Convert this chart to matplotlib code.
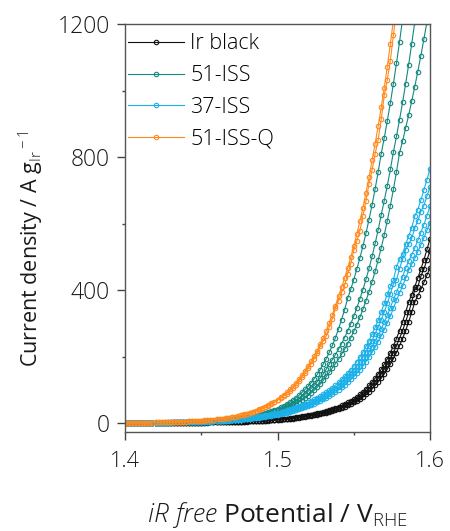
import numpy as np
import matplotlib.pyplot as plt

plt.rcParams['font.family'] = 'Open Sans'
plt.rcParams['font.weight'] = 'light'
plt.rcParams['mathtext.fontset'] = 'custom'
plt.rcParams['mathtext.rm'] = 'Open Sans:light'
plt.rcParams['mathtext.it'] = 'Open Sans:italic:light'

# iR-corrected potential sweep (V vs RHE), 2 mV steps
potential = np.round(np.arange(1400, 1601, 2) / 1000, 3)

# current densities (A g_Ir^-1), one list per polarisation curve
ir_black_1 = [0.2, 0.2, 0.3, 0.3, 0.3, 0.3, 0.4, 0.4, 0.4, 0.5,
              0.5, 0.5, 0.6, 0.6, 0.7, 0.7, 0.8, 0.9, 0.9, 1.0,
              1.1, 1.2, 1.3, 1.4, 1.5, 1.6, 1.7, 1.9, 2.0, 2.2,
              2.3, 2.5, 2.7, 3.0, 3.2, 3.4, 3.7, 4.0, 4.3, 4.7,
              5.0, 5.4, 5.9, 6.3, 6.8, 7.4, 7.9, 8.6, 9.2, 10.0,
              10.8, 11.6, 12.5, 13.5, 14.6, 15.8, 17.0, 18.3, 19.8, 21.4,
              23.0, 24.9, 26.8, 28.9, 31.2, 33.7, 36.4, 39.2, 42.3, 45.7,
              49.3, 53.1, 57.3, 61.9, 66.7, 72.0, 78.8, 86.2, 94.3, 103,
              113, 124, 135, 148, 162, 177, 194, 212, 232, 254,
              278, 304, 333, 364, 386, 410, 436, 463, 491, 522,
              554]
ir_black_2 = [0.2, 0.2, 0.2, 0.3, 0.3, 0.3, 0.3, 0.4, 0.4, 0.4,
              0.5, 0.5, 0.5, 0.6, 0.6, 0.7, 0.7, 0.8, 0.9, 0.9,
              1.0, 1.1, 1.2, 1.3, 1.4, 1.5, 1.6, 1.7, 1.9, 2.0,
              2.2, 2.3, 2.5, 2.7, 3.0, 3.2, 3.4, 3.7, 4.0, 4.3,
              4.7, 5.0, 5.4, 5.9, 6.3, 6.8, 7.4, 7.9, 8.6, 9.2,
              10.0, 10.8, 11.6, 12.5, 13.5, 14.6, 15.8, 17.0, 18.3, 19.8,
              21.4, 23.0, 24.9, 26.8, 28.9, 31.2, 33.7, 36.4, 39.2, 42.3,
              45.7, 49.3, 53.1, 57.3, 61.9, 66.7, 72.0, 78.8, 86.2, 94.3,
              103, 113, 124, 135, 148, 162, 177, 194, 212, 232,
              254, 278, 304, 333, 364, 402, 410, 441, 463, 491,
              518]
ir_black_3 = [0.2, 0.2, 0.2, 0.2, 0.3, 0.3, 0.3, 0.3, 0.4, 0.4,
              0.4, 0.5, 0.5, 0.5, 0.6, 0.6, 0.7, 0.7, 0.8, 0.9,
              0.9, 1.0, 1.1, 1.2, 1.3, 1.4, 1.5, 1.6, 1.7, 1.9,
              2.0, 2.2, 2.3, 2.5, 2.7, 3.0, 3.2, 3.4, 3.7, 4.0,
              4.3, 4.7, 5.0, 5.4, 5.9, 6.3, 6.8, 7.4, 7.9, 8.6,
              9.2, 10.0, 10.8, 11.6, 12.5, 13.5, 14.6, 15.8, 17.0, 18.3,
              19.8, 21.4, 23.0, 24.9, 26.8, 28.9, 31.2, 33.7, 36.4, 39.2,
              42.3, 45.7, 49.3, 53.1, 57.3, 61.9, 66.7, 72.0, 78.8, 86.2,
              94.3, 103, 113, 124, 135, 148, 162, 177, 194, 212,
              232, 254, 278, 304, 333, 364, 383, 402, 423, 445,
              467]

iss51_1 = [0.4, 0.5, 0.5, 0.6, 0.6, 0.7, 0.8, 0.8, 0.9, 1.0,
           1.1, 1.2, 1.3, 1.5, 1.6, 1.7, 1.9, 2.1, 2.3, 2.5,
           2.8, 3.0, 3.3, 3.6, 4.0, 4.4, 4.8, 5.2, 5.7, 6.3,
           6.9, 7.6, 8.3, 9.1, 10.0, 10.9, 12.0, 13.2, 14.4, 15.8,
           17.3, 19.0, 20.8, 22.9, 25.1, 27.5, 30.1, 33.0, 36.2, 39.7,
           43.6, 47.8, 52.4, 57.4, 62.9, 69.0,
           76, 83, 92, 101, 110, 121, 133, 146, 161, 177,
           194, 213, 234, 257, 283, 311, 341, 375,
           402, 431, 463, 496, 532, 571, 612, 656, 704, 755, 810,
           858, 909, 963, 1021, 1082, 1146, 1215, 1287]
iss51_2 = [0.4, 0.5, 0.5, 0.6, 0.6, 0.7, 0.7, 0.8, 0.9, 1.0,
           1.1, 1.2, 1.3, 1.4, 1.5, 1.6, 1.8, 2.0, 2.2, 2.4,
           2.6, 2.8, 3.1, 3.4, 3.7, 4.1, 4.4, 4.9, 5.3, 5.8,
           6.4, 7.0, 7.6, 8.3, 9.1, 10.0, 10.9, 11.9, 13.1, 14.3,
           15.6, 17.1, 18.7, 20.5, 22.4, 24.5, 26.8, 29.3, 32.1, 35.1,
           38.5, 42.1, 46.0, 50.4, 55.1, 60.3, 66.0, 72.2,
           79, 86, 95, 104, 113, 124, 136, 148, 162, 178,
           191, 206, 222, 239, 257, 277, 298, 321, 346, 373,
           401, 432, 465, 501, 540, 581, 626,
           669, 714, 763, 815,
           862, 912, 964, 1020, 1078, 1141, 1206, 1276]
iss51_3 = [0.4, 0.4, 0.5, 0.5, 0.6, 0.6, 0.7, 0.8, 0.8, 0.9,
           1.0, 1.1, 1.2, 1.3, 1.4, 1.6, 1.7, 1.9, 2.0, 2.2,
           2.4, 2.7, 2.9, 3.2, 3.5, 3.8, 4.1, 4.5, 4.9, 5.4,
           5.9, 6.4, 7.0, 7.6, 8.3, 9.1, 9.9, 10.9, 11.9, 13.0,
           14.2, 15.5, 16.9, 18.4, 20.1, 22.0, 24.0, 26.2, 28.6, 31.3,
           34.1, 37.3, 40.7, 44.4, 48.5, 53.0, 57.9, 63.2, 69.0,
           75, 82, 90, 98, 107, 117, 128, 140, 152, 166,
           179, 192, 207, 222, 239, 256, 276, 296, 318, 342,
           368, 395, 425, 456, 490, 527, 566, 609, 654, 703, 755, 812,
           848, 887, 926, 968, 1012, 1057, 1105, 1155, 1207, 1261]

iss37_1 = [0.6, 0.7, 0.7, 0.8, 0.8, 0.9, 1.0, 1.1, 1.2, 1.3,
           1.4, 1.5, 1.6, 1.7, 1.9, 2.1, 2.2, 2.4, 2.6, 2.8,
           3.1, 3.3, 3.6, 3.9, 4.2, 4.6, 4.9, 5.3, 5.8, 6.3,
           6.8, 7.4, 8.0, 8.6, 9.4, 10.1, 11.0, 11.9, 12.9, 14.0,
           15.1, 16.4, 17.7, 19.2, 20.8, 22.3, 23.9, 25.6, 27.4, 29.3,
           31.3, 33.5, 35.9, 38.4, 41.1, 44.0, 47.1, 50.4, 54.0, 57.8,
           61.8, 66.2, 70.8, 75.8, 81.2, 86.9, 93.0, 99.5, 106.5, 114.0,
           122, 131, 140, 150, 160, 172, 185, 199, 214, 231,
           248, 268, 288, 310, 334, 360, 388, 411, 430, 470,
           493, 508, 538, 562, 587, 622, 642, 670, 701, 732,
           765]
iss37_2 = [0.6, 0.6, 0.7, 0.7, 0.8, 0.8, 0.9, 1.0, 1.1, 1.2,
           1.3, 1.4, 1.5, 1.6, 1.7, 1.9, 2.1, 2.2, 2.4, 2.6,
           2.8, 3.1, 3.3, 3.6, 3.9, 4.2, 4.6, 4.9, 5.3, 5.8,
           6.3, 6.8, 7.4, 8.0, 8.6, 9.4, 10.1, 11.0, 11.9, 12.9,
           14.0, 15.1, 16.4, 17.7, 19.2, 20.8, 22.3, 23.9, 25.6, 27.4,
           29.3, 31.3, 33.5, 35.9, 38.4, 41.1, 44.0, 47.1, 50.4, 54.0,
           57.8, 61.8, 66.2, 70.8, 75.8, 81.2, 86.9, 93.0, 99.5, 106.5,
           114, 122, 131, 140, 150, 160, 172, 185, 199, 214,
           231, 248, 268, 288, 310, 334, 360, 388, 418, 430,
           464, 493, 521, 538, 555, 587, 608, 636, 654, 683,
           710]
iss37_3 = [0.6, 0.6, 0.6, 0.7, 0.7, 0.8, 0.8, 0.9, 1.0, 1.1,
           1.2, 1.3, 1.4, 1.5, 1.6, 1.7, 1.9, 2.1, 2.2, 2.4,
           2.6, 2.8, 3.1, 3.3, 3.6, 3.9, 4.2, 4.6, 4.9, 5.3,
           5.8, 6.3, 6.8, 7.4, 8.0, 8.6, 9.4, 10.1, 11.0, 11.9,
           12.9, 14.0, 15.1, 16.4, 17.7, 19.2, 20.8, 22.3, 23.9, 25.6,
           27.4, 29.3, 31.3, 33.5, 35.9, 38.4, 41.1, 44.0, 47.1, 50.4,
           54.0, 57.8, 61.8, 66.2, 70.8, 75.8, 81.2, 86.9, 93.0, 99.5,
           107, 114, 122, 131, 140, 150, 160, 172, 185, 199,
           214, 230, 246, 264, 282, 303, 324, 347, 372, 393,
           415, 440, 466, 486, 506, 527, 549, 573, 597, 624,
           652]
iss37_4 = [0.5, 0.6, 0.6, 0.6, 0.7, 0.7, 0.8, 0.8, 0.9, 1.0,
           1.1, 1.2, 1.3, 1.4, 1.5, 1.6, 1.7, 1.9, 2.1, 2.2,
           2.4, 2.6, 2.8, 3.1, 3.3, 3.6, 3.9, 4.2, 4.6, 4.9,
           5.3, 5.8, 6.3, 6.8, 7.4, 8.0, 8.6, 9.4, 10.1, 11.0,
           11.9, 12.9, 14.0, 15.1, 16.4, 17.7, 19.2, 20.8, 22.3, 23.9,
           25.6, 27.4, 29.3, 31.3, 33.5, 35.9, 38.4, 41.1, 44.0, 47.1,
           50.4, 54.0, 57.8, 61.8, 66.2, 70.8, 75.8, 81.2, 86.9, 93.0,
           99.5, 107, 114, 122, 131, 140, 150, 160, 172, 185,
           199, 213, 228, 245, 262, 281, 301, 322, 345, 370,
           391, 412, 435, 459, 477, 495, 515, 536, 557, 580,
           603]

iss51q_1 = [0.7, 0.8, 0.8, 0.9, 1.0, 1.1, 1.2, 1.4, 1.5, 1.6,
            1.8, 2.0, 2.1, 2.4, 2.6, 2.8, 3.1, 3.4, 3.7, 4.1,
            4.5, 4.9, 5.4, 5.9, 6.5, 7.1, 7.8, 8.6, 9.4, 10.3,
            11.3, 12.4, 13.6, 14.9, 16.3, 17.9, 19.6, 21.5, 23.6, 25.9,
            28.4, 31.1, 34.1, 37.4, 41.0, 44.9, 49.3, 54.0, 59.2,
            64.7, 70.7, 77.3, 84.4, 92.3, 101, 110, 120, 132, 144, 157, 172,
            186, 202, 218, 237, 256, 278, 301, 326, 353, 382,
            408, 436, 466, 498, 532, 568, 607, 648, 692, 739, 790,
            840, 893, 949, 1009, 1072, 1140, 1212, 1289]
iss51q_2 = [0.6, 0.7, 0.8, 0.9, 0.9, 1.0, 1.2, 1.3, 1.4, 1.6,
            1.7, 1.9, 2.1, 2.3, 2.5, 2.7, 3.0, 3.3, 3.6, 3.9,
            4.3, 4.7, 5.2, 5.7, 6.2, 6.8, 7.5, 8.3, 9.0, 9.9,
            10.9, 11.9, 13.1, 14.3, 15.7, 17.2, 18.8, 20.6, 22.7, 24.9,
            27.3, 29.9, 32.8, 35.9, 39.4, 43.1, 47.3, 51.8, 56.8,
            62.1, 67.9, 74.2, 81.0, 88.6, 97, 106, 115, 127, 138, 151, 165,
            179, 194, 210, 232, 247, 262, 290, 314, 346, 368,
            393, 414, 449, 479, 520, 547, 578, 624, 667, 720, 761,
            809, 852, 914, 985, 1033, 1090, 1167, 1241]

sample_names = ['Ir black', '51-ISS', '37-ISS', '51-ISS-Q']
sample_colors = ['#111111', '#13897f', '#1cb0e8', '#ff8a1e']
sample_curves = [[ir_black_1, ir_black_2, ir_black_3],
                 [iss51_1, iss51_2, iss51_3],
                 [iss37_1, iss37_2, iss37_3, iss37_4],
                 [iss51q_1, iss51q_2]]

fig = plt.figure(figsize=(4.5, 5.31), dpi=100)
ax = fig.add_axes([0.2778, 0.1864, 0.6778, 0.7684])

for name, color, curves in zip(sample_names, sample_colors, sample_curves):
    for k, j in enumerate(curves):
        ax.plot(potential[:len(j)], j, color=color, lw=0.8,
                marker='o', ms=3.2, mfc='none', mew=0.8,
                label=name if k == 0 else None)

ax.set_xlim(1.4, 1.6)
ax.set_ylim(-27, 1200)
ax.set_xticks([1.4, 1.5, 1.6])
ax.set_xticks([1.45, 1.55], minor=True)
ax.set_yticks([0, 400, 800, 1200])
ax.set_yticks([200, 600, 1000], minor=True)
ax.set_xticklabels(['1.4', '1.5', '1.6'])
ax.tick_params(which='both', direction='out', width=1, color='#444444',
               labelcolor='#1a1a1a')
ax.tick_params(which='major', length=6)
ax.tick_params(which='minor', length=2.5)
ax.tick_params(axis='x', labelsize=15.5, pad=8)
ax.tick_params(axis='y', labelsize=16.5, pad=5)
for sp in ax.spines.values():
    sp.set_color('#555555')
    sp.set_linewidth(1)

ax.set_ylabel('Current density / A g$_{\\rm Ir}$$^{\\rm -1}$',
              fontsize=15.5, color='#1a1a1a')
ax.yaxis.set_label_coords(-0.262, 0.45)
ax.set_xlabel('$\\mathit{iR\\ free}$ Potential / V$_{\\rm RHE}$',
              fontsize=19, color='#1a1a1a', labelpad=20)

ax.legend(loc='upper left', bbox_to_anchor=(0.01, 0.977), frameon=False,
          fontsize=15.5, handlelength=2.6, handletextpad=0.3,
          labelspacing=0.5, borderpad=0, borderaxespad=0)

fig.savefig('out.png', dpi=100)
